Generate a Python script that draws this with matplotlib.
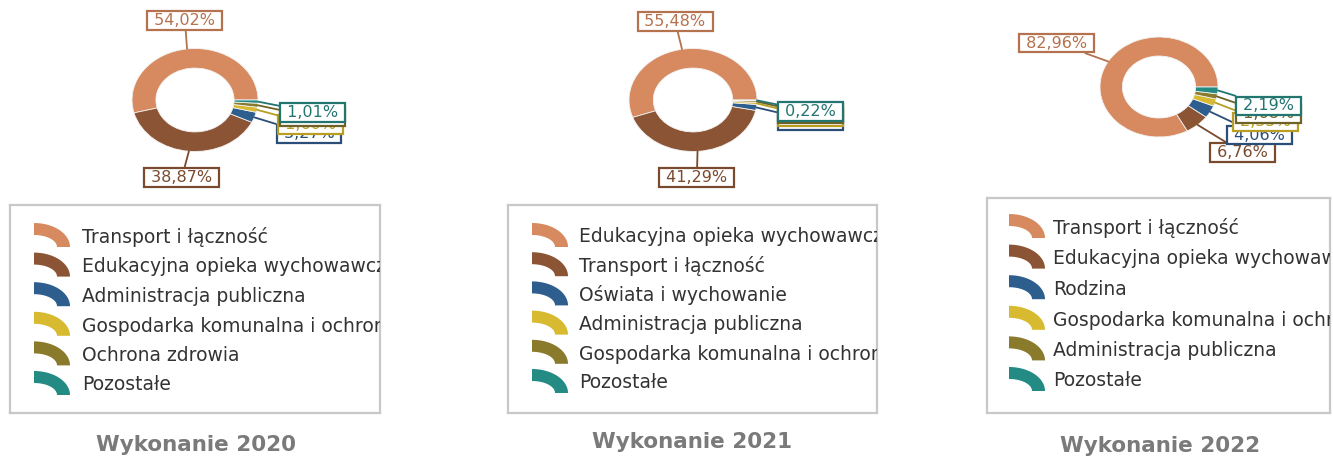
import numpy as np
import matplotlib.pyplot as plt
from matplotlib.patches import Polygon

W, H, DPI = 1333, 457, 100

# category names and shares (%) per year, in drawing order
cats_2020 = ['Transport i łączność', 'Edukacyjna opieka wychowawcza',
             'Administracja publiczna', 'Gospodarka komunalna i ochrona środowiska',
             'Ochrona zdrowia', 'Pozostałe']
vals_2020 = [54.02, 38.87, 3.27, 1.60, 1.23, 1.01]

cats_2021 = ['Edukacyjna opieka wychowawcza', 'Transport i łączność',
             'Oświata i wychowanie', 'Administracja publiczna',
             'Gospodarka komunalna i ochrona środowiska', 'Pozostałe']
vals_2021 = [55.48, 41.29, 1.85, 0.66, 0.50, 0.22]

cats_2022 = ['Transport i łączność', 'Edukacyjna opieka wychowawcza', 'Rodzina',
             'Gospodarka komunalna i ochrona środowiska', 'Administracja publiczna',
             'Pozostałe']
vals_2022 = [82.96, 6.76, 4.06, 2.35, 1.68, 2.19]

titles = ['Wykonanie 2020', 'Wykonanie 2021', 'Wykonanie 2022']

slice_colors = ['#D78A5F', '#8B5535', '#2E5E8E', '#D8BA30', '#8A7A2B', '#238A84']
label_colors = ['#B5724E', '#7A4A2E', '#2A4E78', '#B89E22', '#6E6226', '#237570']

# layout in pixels: donut centre and radii, label anchors (in radii units),
# legend box, legend marker/text x, first row y, row step, title position
layout = [
    dict(c=(195, 100), rx=63, ry=51.5,
         lab=[(-0.16, 1.55), (-0.21, -1.51), (1.81, -0.66), (1.84, -0.47), (1.87, -0.33), (1.87, -0.24)],
         box=(10, 205, 380, 413), mx=34, tx=82, r0=237, step=29.6, title=(196, 445)),
    dict(c=(693, 100), rx=64, ry=51.5,
         lab=[(-0.28, 1.53), (0.06, -1.51), (1.83, -0.39), (1.83, -0.32), (1.83, -0.27), (1.83, -0.22)],
         box=(508, 205, 877, 413), mx=532, tx=579, r0=237, step=29.2, title=(692, 442)),
    dict(c=(1159, 87), rx=59, ry=50,
         lab=[(-1.73, 0.88), (1.42, -1.31), (1.71, -0.96), (1.80, -0.70), (1.85, -0.54), (1.86, -0.38)],
         box=(987, 198, 1330, 413), mx=1009, tx=1053, r0=228, step=30.6, title=(1160, 446)),
]

fig = plt.figure(figsize=(W / DPI, H / DPI), dpi=DPI)


def fmt(v):
    return ' ' + f'{v:.2f}%'.replace('.', ',') + ' '


def donut(L, vals):
    cx, cy = L['c']
    k = 1.05
    ax = fig.add_axes([(cx - L['rx'] * k) / W, 1 - (cy + L['ry'] * k) / H,
                       2 * L['rx'] * k / W, 2 * L['ry'] * k / H])
    wedges, _ = ax.pie(vals, colors=slice_colors, startangle=0, counterclock=True,
                       wedgeprops=dict(width=0.38, edgecolor='#f2f2f2', linewidth=0.6))
    ax.set_aspect('auto')
    ax.set_xlim(-k, k)
    ax.set_ylim(-k, k)
    for i, (w, v) in enumerate(zip(wedges, vals)):
        a = np.deg2rad((w.theta1 + w.theta2) / 2)
        ax.annotate(fmt(v), xy=(np.cos(a), np.sin(a)), xytext=L['lab'][i],
                    ha='center', va='center', fontsize=11.5, color=label_colors[i],
                    zorder=3 + i,
                    bbox=dict(boxstyle='square,pad=0.12', fc='white', ec=label_colors[i], lw=1.6),
                    arrowprops=dict(arrowstyle='-', color=label_colors[i], lw=1.3,
                                    shrinkA=0, shrinkB=0))


def legend(L, cats):
    x0, y0, x1, y1 = L['box']
    w, h = x1 - x0, y1 - y0
    ax = fig.add_axes([x0 / W, 1 - y1 / H, w / W, h / H])
    ax.set_xlim(0, w)
    ax.set_ylim(h, 0)
    ax.set_xticks([])
    ax.set_yticks([])
    for s in ax.spines.values():
        s.set_color('#c8c8c8')
        s.set_linewidth(1.6)
    # quarter-ring swatch, same shape as a donut segment
    t = np.linspace(0, np.pi / 2, 30)
    for i, name in enumerate(cats):
        yc = L['r0'] - y0 + i * L['step']
        mx, my = L['mx'] - x0, yc + 10
        outer = np.column_stack([mx + 36 * np.cos(t), my - 24 * np.sin(t)])
        inner = np.column_stack([mx + 23 * np.cos(t[::-1]), my - 12 * np.sin(t[::-1])])
        ax.add_patch(Polygon(np.vstack([outer, inner]), closed=True,
                             fc=slice_colors[i], ec='none'))
        ax.text(L['tx'] - x0, yc, name, fontsize=13.5, color='#333333',
                va='center', ha='left', clip_on=True)


for L, cats, vals, title in zip(layout, [cats_2020, cats_2021, cats_2022],
                                [vals_2020, vals_2021, vals_2022], titles):
    donut(L, vals)
    legend(L, cats)
    fig.text(L['title'][0] / W, 1 - L['title'][1] / H, title, fontsize=15.5,
             fontweight='bold', color='#7a7a7a', ha='center', va='center')

fig.savefig('out.png', dpi=DPI)
